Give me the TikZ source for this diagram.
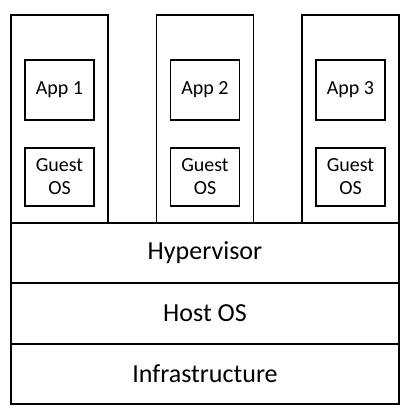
\documentclass[tikz,border=0pt]{standalone}
\usepackage{fontspec}
\setmainfont{Carlito}

\tikzset{
    box/.style = {draw, line width = 1.6pt, inner sep = 0pt, outer sep = 0pt},
    layer/.style = {box, minimum width = 388pt, font = \fontsize{26}{30}\selectfont},
    vm/.style = {box, minimum width = 97pt, minimum height = 208pt},
    inner/.style = {box, minimum width = 69pt, align = center, font = \fontsize{20}{23}\selectfont}
}

\begin{document}
\begin{tikzpicture}[x=1pt, y=-1pt]
    \useasboundingbox (0,0) rectangle (407,416);

    % One column per virtual machine
    \foreach \i [evaluate=\i as \xpos using {59.5 + 145.5*(\i-1)}] in {1,2,3} {
        \node [vm] (vm\i) at (\xpos,119) {};
        \node [inner, minimum height = 60pt] (app\i) at (\xpos,90) {App \i};
        \node [inner, minimum height = 58pt] (guest\i) at (\xpos,177) {Guest\\OS};
    }

    % Stack of layers below the machines
    \node [layer, minimum height = 60pt] (hyper) at (205,253) {Hypervisor};
    \node [layer, minimum height = 61pt] (host) at (205,313.5) {Host OS};
    \node [layer, minimum height = 60pt] (infra) at (205,374) {Infrastructure};
\end{tikzpicture}
\end{document}
